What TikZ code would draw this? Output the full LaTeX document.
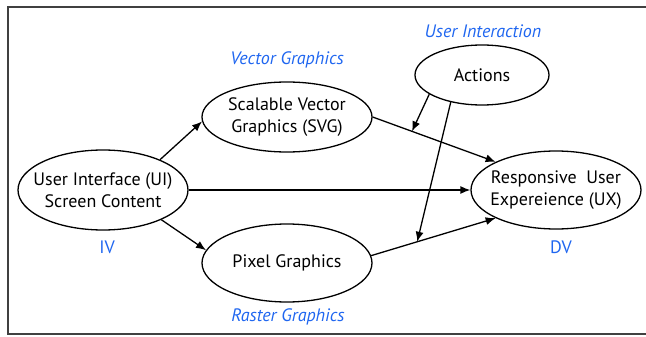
\documentclass[tikz,border=0pt]{standalone}
\usepackage{fontspec}
\setmainfont{PT Sans}
\usetikzlibrary{shapes.geometric, arrows, arrows.meta}
\tikzstyle{oval} = [
    ellipse,
    draw=black,
    align=center,
    inner xsep=-15pt,
    inner ysep=0pt,
    minimum width=170pt,
    minimum height=78pt,
    line width=1.3pt,
    font=\fontsize{18}{22}\selectfont,
]
\tikzstyle{tag} = [text=labelblue, font=\fontsize{18}{22}\selectfont\itshape]
\tikzstyle{arrow} = [line width=1.3pt,-{Latex[length=10pt,width=8pt]}]
\definecolor{labelblue}{HTML}{1F66F0}
\definecolor{framegray}{HTML}{404040}

\begin{document}
\begin{tikzpicture}[x=1pt, y=-1pt]
    \useasboundingbox (0,0) rectangle (646,337);
    % open frame, right side is cut off
    \draw[framegray, line width=1.8pt] (650,7) -- (8,7) -- (8,334) -- (650,334);

    \node (ui) [oval, minimum height=80pt] at (103,190) {User Interface (UI)\\ Screen Content};
    \node (svg) [oval, minimum height=70pt] at (287,117) {Scalable Vector\\ Graphics (SVG)};
    \node (px) [oval] at (287,263) {Pixel Graphics};
    \node (act) [oval, minimum width=134pt, minimum height=60pt] at (482,75) {Actions};
    \node (ux) [oval] at (556,190) {Responsive\ \ User\\ Expereience (UX)};

    \node (vg) [tag] at (287,60) {Vector Graphics};
    \node (uint) [tag] at (483,31) {User Interaction};
    \node (rg) [tag] at (288,317) {Raster Graphics};
    \node (iv) [tag, font=\fontsize{18}{22}\selectfont] at (107,247) {IV};
    \node (dv) [tag, font=\fontsize{18}{22}\selectfont] at (561,247) {DV};

    \path [arrow]
        (ui.28) edge (svg.183)
        (ui.-27) edge (px.171)
        (ui) edge (ux);
    \draw [arrow] (svg.east) -- coordinate[pos=0.32] (svgmid) (ux.155);
    \draw [arrow] (px.5) -- coordinate[pos=0.37] (pxmid) (ux.205);
    \path [arrow]
        (act.200) edge (svgmid)
        (act.221) edge (pxmid);
\end{tikzpicture}
\end{document}
